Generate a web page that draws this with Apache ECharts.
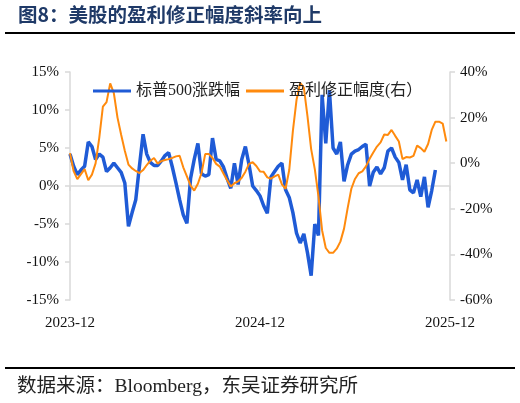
<!DOCTYPE html>
<html>
<head>
<meta charset="utf-8">
<script src="https://cdn.jsdelivr.net/npm/echarts@6/dist/echarts.min.js"></script>
<style>
html,body{margin:0;padding:0;background:#fff;}
#c{width:520px;height:403px;}
</style>
</head>
<body>
<div id="c"></div>
<script>
// weekly categories starting 2023-12-04 (105 weeks -> 2025-12-01)
const startDate = '2023-12-04';
const weekCount = 105;
const xTickEvery = 52;

// S&P 500 change (%), left axis
const spxChange = [
  4.2, 2.6, 1.5, 2.1, 2.6, 5.8, 5.2, 3.5, 4.2, 3.8,
  1.9, 2.4, 3.0, 2.4, 1.8, 0.4, -5.3, -3.5, -1.8, 2.6,
  6.8, 4.2, 3.1, 2.7, 2.7, 3.3, 4.0, 4.4, 2.5, 0.4,
  -1.8, -3.8, -4.9, 1.0, 3.5, 5.6, 1.6, 1.3, 1.5, 6.3,
  3.5, 3.3, 2.5, 1.0, -0.3, 3.0, 0.2, 3.5, 5.2, 2.8,
  0.0, -0.6, -1.3, -2.6, -3.6, 1.2, 1.9, 2.6, 3.0, -0.5,
  -1.5, -3.5, -6.2, -7.5, -6.3, -8.8, -11.8, -5.0, -6.5, 12.0,
  5.6, 12.6, 5.0, 4.2, 5.8, 0.6, 2.8, 4.2, 4.6, 4.8,
  5.2, 5.5, 0.0, 1.8, 2.5, 1.6, 2.4, 4.6, 5.0, 3.8,
  3.1, 0.8, 2.8, -0.5, -0.9, 0.8, -1.4, 1.2, -2.8, -0.6,
  2.1
];

// Earnings revision breadth (%), right axis
const revision = [
  4.4, -3.5, -7.0, -4.8, -2.6, -7.5, -5.0, -0.1, 11.0, 24.8,
  26.8, 35.0, 30.7, 20.0, 12.5, 5.5, -0.6, -2.3, -3.4, -4.3,
  -3.0, -0.8, 1.1, 2.3, -0.2, 0.9, 1.4, 1.8, 2.3, 3.0,
  3.3, -1.8, -5.8, -9.8, -12.0, -9.0, -4.3, 4.0, 4.0, 2.3,
  -0.3, -1.5, -4.5, -7.5, -10.2, -8.8, -8.0, -6.4, -3.7, -0.3,
  0.4, -1.2, -3.6, -3.8, -6.2, -6.8, -5.8, -5.0, -9.3, -11.2,
  -3.0, 14.2, 27.8, 35.2, 33.2, 20.5, 6.2, -2.6, -14.6, -29.5,
  -37.2, -39.3, -39.3, -37.5, -34.4, -28.7, -19.6, -11.2, -6.9, -4.4,
  -3.6, -1.4, 1.9, 4.7, 7.3, 9.1, 12.6, 12.4, 14.6, 12.0,
  9.5, 1.8, 2.7, 2.5, 3.2, 7.7, 6.6, 5.0, 8.4, 14.6,
  18.2, 18.2, 17.4, 9.5
];

const seriesNames = ['标普500涨跌幅', '盈利修正幅度(右）'];
const leftAxis = { min: -15, max: 15, interval: 5 };
const rightAxis = { min: -60, max: 40, interval: 20 };

const categories = [];
{
  const d0 = new Date(startDate + 'T00:00:00Z');
  for (let i = 0; i < weekCount; i++) {
    const d = new Date(d0.getTime() + i * 7 * 86400000);
    categories.push(d.toISOString().slice(0, 10));
  }
}

const FONT = '"Liberation Serif", "Times New Roman", "Noto Sans CJK SC", serif';
const AXIS_GRAY = '#d9d9d9';
const BLUE = '#1f5bd6';
const ORANGE = '#ff8a0d';
const showTick = (i) => i % xTickEvery === 0;

const chart = echarts.init(document.getElementById('c'), null, { renderer: 'canvas' });
chart.setOption({
  backgroundColor: '#fff',
  animation: false,
  textStyle: { fontFamily: FONT },
  grid: { left: 70, right: 70, top: 72, bottom: 103, containLabel: false },
  legend: {
    left: 88, top: 78,
    icon: 'rect',
    itemWidth: 38, itemHeight: 3, itemGap: 6,
    textStyle: { fontFamily: FONT, fontSize: 16, color: '#222' },
    data: seriesNames
  },
  xAxis: [
    {
      type: 'category', data: categories, boundaryGap: false,
      axisLine: { onZero: true, onZeroAxisIndex: 0, lineStyle: { color: AXIS_GRAY, width: 1.5 } },
      axisTick: { show: true, interval: showTick, length: 5, lineStyle: { color: AXIS_GRAY, width: 1.5 } },
      axisLabel: { show: false },
      splitLine: { show: false }
    },
    {
      type: 'category', data: categories, boundaryGap: false, position: 'bottom',
      axisLine: { show: false }, axisTick: { show: false },
      axisLabel: {
        show: true, interval: showTick, margin: 16,
        fontFamily: FONT, fontSize: 15, color: '#111',
        formatter: (v) => v.slice(0, 7)
      },
      splitLine: { show: false }
    }
  ],
  yAxis: [
    {
      type: 'value', position: 'left', min: leftAxis.min, max: leftAxis.max, interval: leftAxis.interval,
      axisLine: { show: true, lineStyle: { color: AXIS_GRAY, width: 1.5 } },
      axisTick: { show: true, length: 5, lineStyle: { color: AXIS_GRAY, width: 1.5 } },
      axisLabel: { formatter: '{value}%', fontFamily: FONT, fontSize: 15, color: '#111', margin: 11 },
      splitLine: { show: false }
    },
    {
      type: 'value', position: 'right', min: rightAxis.min, max: rightAxis.max, interval: rightAxis.interval,
      axisLine: { show: true, lineStyle: { color: AXIS_GRAY, width: 1.5 } },
      axisTick: { show: true, length: 5, lineStyle: { color: AXIS_GRAY, width: 1.5 } },
      axisLabel: { formatter: '{value}%', fontFamily: FONT, fontSize: 15, color: '#111', margin: 10 },
      splitLine: { show: false }
    }
  ],
  series: [
    {
      name: seriesNames[0], type: 'line', xAxisIndex: 0, yAxisIndex: 0,
      data: spxChange, symbol: 'none', smooth: false,
      lineStyle: { color: BLUE, width: 3.5 }, itemStyle: { color: BLUE }, z: 2
    },
    {
      name: seriesNames[1], type: 'line', xAxisIndex: 0, yAxisIndex: 1,
      data: revision, symbol: 'none', smooth: false,
      lineStyle: { color: ORANGE, width: 2 }, itemStyle: { color: ORANGE }, z: 3
    }
  ],
  graphic: [
    { type: 'text', left: 18, top: 5, style: { text: '图8：美股的盈利修正幅度斜率向上', fill: '#1f3a68', font: 'bold 19.5px "Noto Sans CJK SC", sans-serif' } },
    { type: 'line', shape: { x1: 5, y1: 33, x2: 515, y2: 33 }, style: { stroke: '#000', lineWidth: 2 } },
    { type: 'line', shape: { x1: 5, y1: 368, x2: 515, y2: 368 }, style: { stroke: '#000', lineWidth: 2 } },
    { type: 'text', left: 17, top: 377, style: { text: '数据来源：Bloomberg，东吴证券研究所', fill: '#222', font: '19.5px "Liberation Serif", "Noto Sans CJK SC", serif' } }
  ]
});
</script>
</body>
</html>
